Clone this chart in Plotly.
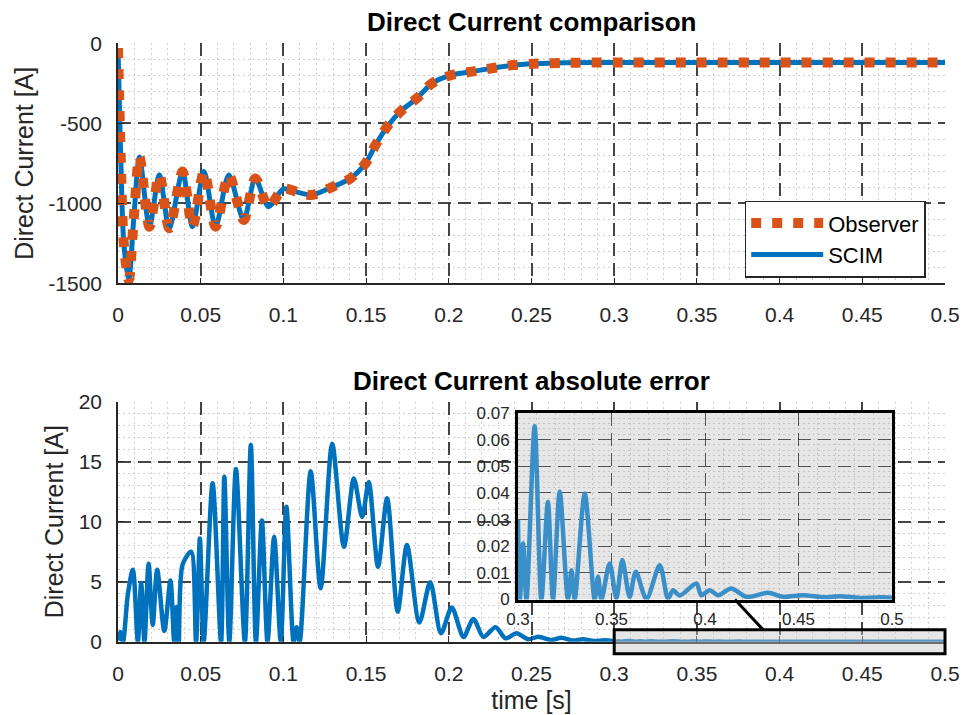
import numpy as np
import plotly.graph_objects as go

# ---------------- data ----------------
# Top: direct-axis current, SCIM model vs observer (A)
t_cmp = [0.0, 0.0015, 0.0035, 0.0065, 0.0095, 0.013, 0.019, 0.025, 0.031, 0.039,
         0.045, 0.052, 0.059, 0.067, 0.076, 0.083, 0.091, 0.100, 0.110, 0.117,
         0.130, 0.1406, 0.1497, 0.1557, 0.1627, 0.1717, 0.1807, 0.1898, 0.2018,
         0.214, 0.226, 0.239, 0.2515, 0.27, 0.30, 0.35, 0.40, 0.45, 0.50]
scim_current = [-30, -650, -1250, -1480, -1100, -710, -1146, -823, -1156, -802,
                -1146, -802, -1146, -823, -1104, -845, -1021, -910, -935, -948,
                -896, -844, -750, -636, -521, -417, -344, -250, -198,
                -177, -156, -136, -128, -122, -120, -120, -120, -120, -120]
# observer estimate is indistinguishable from the model at this scale
observer_current = [-30, -650, -1250, -1480, -1100, -710, -1146, -823, -1156, -802,
                    -1146, -802, -1146, -823, -1104, -845, -1021, -910, -935, -948,
                    -896, -844, -750, -636, -521, -417, -344, -250, -198,
                    -177, -156, -136, -128, -122, -120, -120, -120, -120, -120]

# Bottom: absolute error |SCIM - observer| (A)
t_err = [0.0, 0.0015, 0.003, 0.006, 0.009, 0.012, 0.014, 0.016, 0.0185, 0.021,
         0.0237, 0.028, 0.0317, 0.034, 0.0355, 0.0367, 0.039, 0.0442, 0.0472, 0.0495,
         0.0518, 0.0572, 0.0623, 0.0643, 0.0673, 0.0713, 0.0767, 0.0803, 0.0834, 0.087,
         0.0904, 0.0944, 0.0984, 0.1018, 0.1062, 0.108, 0.1098, 0.1165, 0.1225, 0.1295,
         0.1366, 0.1426, 0.1476, 0.1516, 0.1572, 0.1627, 0.1691, 0.1747, 0.1822, 0.1888,
         0.1953, 0.2018, 0.2089, 0.2149, 0.2209, 0.2283, 0.2343, 0.241, 0.248, 0.254,
         0.262, 0.268, 0.275, 0.281, 0.288, 0.294, 0.300,
         0.301, 0.3027, 0.3045, 0.3089, 0.3125, 0.316, 0.3187, 0.3223, 0.3267, 0.3286,
         0.3303, 0.3357, 0.341, 0.3428, 0.3446, 0.349, 0.3526, 0.3558, 0.3597, 0.363,
         0.3687, 0.3758, 0.3802, 0.3829, 0.3865, 0.3954, 0.398, 0.4025, 0.407, 0.414,
         0.4222, 0.4337, 0.4417, 0.4524, 0.464, 0.472, 0.483, 0.494, 0.500]
abs_error = [0.1, 0.8, 0.0, 4.0, 6.0, 0.0, 4.9, 0.0, 6.5, 1.4,
             6.0, 0.9, 5.1, 0.0, 2.9, 0.0, 6.4, 7.5, 0.0, 8.6,
             0.0, 13.2, 0.0, 13.75, 0.0, 14.4, 0.0, 16.4, 0.0, 10.1,
             0.0, 8.75, 0.0, 11.25, 0.0, 1.2, 0.0, 14.2, 4.45, 16.5,
             7.9, 13.6, 10.4, 13.3, 6.25, 11.95, 2.5, 8.05, 1.6, 4.95,
             0.7, 2.85, 0.4, 1.9, 0.4, 1.2, 0.28, 0.7, 0.2, 0.42,
             0.15, 0.33, 0.1, 0.2, 0.06, 0.12, 0.03,
             0.0, 0.021, 0.0, 0.065, 0.0, 0.0367, 0.0, 0.0405, 0.0, 0.011,
             0.0, 0.0398, 0.0, 0.0085, 0.0, 0.0135, 0.0005, 0.0148, 0.001, 0.0104,
             0.0002, 0.0129, 0.0003, 0.0035, 0.0015, 0.006, 0.0016, 0.0035, 0.0016, 0.0041,
             0.001, 0.0025, 0.001, 0.0016, 0.0008, 0.0012, 0.0006, 0.0008, 0.0007]

x_ticks = [0, 0.05, 0.1, 0.15, 0.2, 0.25, 0.3, 0.35, 0.4, 0.45, 0.5]
x_ticktext = ["0", "0.05", "0.1", "0.15", "0.2", "0.25", "0.3", "0.35", "0.4", "0.45", "0.5"]
top_y_ticks = [0, -500, -1000, -1500]
top_y_ticktext = ["0", "-500", "-1000", "-1500"]
bot_y_ticks = [0, 5, 10, 15, 20]
bot_y_ticktext = ["0", "5", "10", "15", "20"]
inset_x_ticks = [0.3, 0.35, 0.4, 0.45, 0.5]
inset_x_ticktext = ["0.3", "0.35", "0.4", "0.45", "0.5"]
inset_y_ticks = [0, 0.01, 0.02, 0.03, 0.04, 0.05, 0.06, 0.07]
inset_y_ticktext = ["0", "0.01", "0.02", "0.03", "0.04", "0.05", "0.06", "0.07"]

# ---------------- layout geometry ----------------
W, H = 962, 715
X_DOM = [118 / W, 945 / W]
TOP_DOM = [1 - 283.3 / H, 1 - 43.3 / H]
BOT_DOM = [1 - 641.7 / H, 1 - 401.7 / H]
INS_X = [518 / W, 892 / W]
INS_Y = [1 - 599.5 / H, 1 - 413 / H]
X_RANGE = [0, 0.5]
BOT_RANGE = [0, 20]
INS_XR = [0.3, 0.5]
INS_YR = [0, 0.07]
ZOOM_Y = [-1, 1]


def main_px(t):
    return X_DOM[0] + (t - X_RANGE[0]) / (X_RANGE[1] - X_RANGE[0]) * (X_DOM[1] - X_DOM[0])


def bot_py(v):
    return BOT_DOM[0] + (v - BOT_RANGE[0]) / (BOT_RANGE[1] - BOT_RANGE[0]) * (BOT_DOM[1] - BOT_DOM[0])


def ins_px(t):
    return INS_X[0] + (t - INS_XR[0]) / (INS_XR[1] - INS_XR[0]) * (INS_X[1] - INS_X[0])


FONT = "Liberation Sans, Arial, Helvetica, sans-serif"
BLUE = "#0072BD"
ORANGE = "#D95319"
TXT = "#262626"

fig = go.Figure()

fig.add_trace(go.Scatter(x=t_cmp, y=scim_current, name="SCIM", mode="lines",
                         line=dict(color=BLUE, width=5, shape="spline", smoothing=0.8),
                         xaxis="x", yaxis="y", legendrank=2))
fig.add_trace(go.Scatter(x=t_cmp, y=observer_current, name="Observer", mode="lines",
                         line=dict(color=ORANGE, width=10, dash="10px,11px", shape="spline", smoothing=0.8),
                         xaxis="x", yaxis="y", legendrank=1))

fig.add_trace(go.Scatter(x=t_err, y=abs_error, mode="lines", showlegend=False,
                         line=dict(color=BLUE, width=4.5, shape="spline", smoothing=0.8),
                         xaxis="x2", yaxis="y2"))

t_arr = np.array(t_err)
e_arr = np.array(abs_error)
sel = t_arr >= INS_XR[0]
fig.add_trace(go.Scatter(x=t_arr[sel], y=e_arr[sel], mode="lines", showlegend=False,
                         line=dict(color="#3a8fc8", width=4.5, shape="spline", smoothing=0.8),
                         xaxis="x3", yaxis="y3"))


def axis_style(minor_dtick, size=21):
    return dict(showline=True, linecolor=TXT, linewidth=1.5, automargin=False,
                ticks="inside", ticklen=6, tickwidth=1.2, tickcolor=TXT,
                showgrid=True, gridcolor="rgba(38,38,38,0.85)", griddash="13px,7px", gridwidth=1.5,
                zeroline=False,
                tickfont=dict(family=FONT, size=size, color=TXT),
                minor=dict(dtick=minor_dtick, showgrid=True, gridcolor="#cfcfcf",
                           griddash="2px,3px", gridwidth=1, ticks=""))


def inset_axis(tickvals, ticktext, rng, dom, anchor, minor_dtick):
    return dict(domain=dom, range=rng, anchor=anchor, tickvals=tickvals, ticktext=ticktext,
                showline=True, mirror=True, linecolor="black", linewidth=3, automargin=False,
                ticks="", showgrid=True, gridcolor="rgba(38,38,38,0.75)", griddash="13px,7px",
                gridwidth=1.4, zeroline=False, ticklabelstandoff=2,
                tickfont=dict(family=FONT, size=17, color=TXT),
                minor=dict(dtick=minor_dtick, showgrid=True, gridcolor="#c4c4c4",
                           griddash="2px,3px", gridwidth=1))


fig.update_layout(
    width=W, height=H, margin=dict(l=0, r=0, t=0, b=0, autoexpand=False),
    paper_bgcolor="white", plot_bgcolor="white",
    font=dict(family=FONT, color=TXT),
    xaxis=dict(domain=X_DOM, range=X_RANGE, anchor="y", tickvals=x_ticks, ticktext=x_ticktext,
               ticklabelstandoff=12, **axis_style(0.01)),
    yaxis=dict(domain=TOP_DOM, range=[-1500, 0], anchor="x", tickvals=top_y_ticks,
               ticktext=top_y_ticktext, ticklabelstandoff=10,
               title=dict(text="Direct Current [A]", font=dict(family=FONT, size=25, color=TXT), standoff=8),
               **axis_style(100)),
    xaxis2=dict(domain=X_DOM, range=X_RANGE, anchor="y2", tickvals=x_ticks, ticktext=x_ticktext,
                ticklabelstandoff=12,
                title=dict(text="time [s]", font=dict(family=FONT, size=25, color=TXT), standoff=8),
                **axis_style(0.01)),
    yaxis2=dict(domain=BOT_DOM, range=BOT_RANGE, anchor="x2", tickvals=bot_y_ticks,
                ticktext=bot_y_ticktext, ticklabelstandoff=10,
                title=dict(text="Direct Current [A]", font=dict(family=FONT, size=25, color=TXT), standoff=8),
                **axis_style(1)),
    xaxis3=inset_axis(inset_x_ticks, inset_x_ticktext, INS_XR, INS_X, "y3", 0.01),
    yaxis3=inset_axis(inset_y_ticks, inset_y_ticktext, INS_YR, INS_Y, "x3", 0.002),
    legend=dict(x=925.7 / W, y=1 - 200.7 / H, xanchor="right", yanchor="top",
                bgcolor="white", bordercolor=TXT, borderwidth=1.5,
                font=dict(family=FONT, size=22, color="black"), itemwidth=72,
                tracegroupgap=0),
    showlegend=True,
)

# titles
fig.add_annotation(text="<b>Direct Current comparison</b>", xref="paper", yref="paper",
                   x=(X_DOM[0] + X_DOM[1]) / 2, y=1 - 22 / H, xanchor="center", yanchor="middle",
                   showarrow=False, font=dict(family=FONT, size=26, color="black"))
fig.add_annotation(text="<b>Direct Current absolute error</b>", xref="paper", yref="paper",
                   x=(X_DOM[0] + X_DOM[1]) / 2, y=1 - 381 / H, xanchor="center", yanchor="middle",
                   showarrow=False, font=dict(family=FONT, size=26, color="black"))

# inset background (drawn within the inset subplot, under its grid)
fig.add_shape(type="rect", xref="x3", yref="y3", x0=INS_XR[0], x1=INS_XR[1], y0=INS_YR[0], y1=INS_YR[1],
              fillcolor="#e6e6e6", line=dict(width=0), layer="below")

# zoom region rectangle on the main error axes
fig.add_shape(type="rect", xref="paper", yref="paper",
              x0=main_px(INS_XR[0]), x1=main_px(INS_XR[1]), y0=bot_py(ZOOM_Y[0]), y1=bot_py(ZOOM_Y[1]),
              fillcolor="rgba(200,200,200,0.45)", line=dict(color="black", width=3), layer="above")

# connector line from inset to zoom rectangle
fig.add_shape(type="line", xref="paper", yref="paper",
              x0=ins_px(0.416), y0=INS_Y[0], x1=main_px(0.39), y1=bot_py(ZOOM_Y[1]),
              line=dict(color="black", width=3), layer="above")

fig.write_html("out.html")
